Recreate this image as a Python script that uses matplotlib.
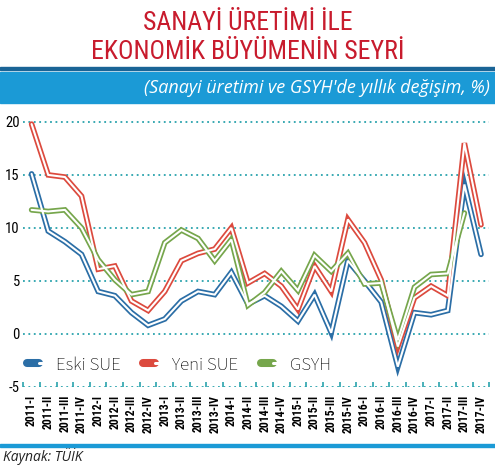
import matplotlib
matplotlib.use("Agg")
import matplotlib.pyplot as plt
from matplotlib.lines import Line2D
from matplotlib.legend_handler import HandlerTuple
from matplotlib.patches import Rectangle

# Veriler
ceyrekler = ["2011-I", "2011-II", "2011-III", "2011-IV",
             "2012-I", "2012-II", "2012-III", "2012-IV",
             "2013-I", "2013-II", "2013-III", "2013-IV",
             "2014-I", "2014-II", "2014-III", "2014-IV",
             "2015-I", "2015-II", "2015-III", "2015-IV",
             "2016-I", "2016-II", "2016-III", "2016-IV",
             "2017-I", "2017-II", "2017-III", "2017-IV"]
eski_sue = [15.1, 9.7, 8.7, 7.5, 4.0, 3.6, 2.0, 0.8, 1.4, 3.1, 4.0, 3.7,
            5.8, 2.8, 3.6, 2.6, 1.2, 3.7, 0.1, 6.9, 5.0, 3.0, -3.1, 2.0,
            1.8, 2.2, 14.1, 7.5]
yeni_sue = [19.8, 15.0, 14.8, 13.0, 6.1, 6.4, 3.1, 2.2, 4.0, 6.9, 7.6, 8.0,
            10.0, 4.8, 5.7, 4.5, 2.3, 6.4, 4.0, 10.8, 8.6, 5.1, -1.2, 3.4,
            4.5, 3.6, 18.0, 10.3]
gsyh = [11.7, 11.55, 11.7, 10.0, 7.0, 5.1, 3.7, 4.0, 8.6, 9.8, 9.0, 6.9,
        8.9, 2.7, 3.9, 5.9, 4.1, 7.4, 5.9, 7.6, 4.7, 4.8, -0.6, 4.4,
        5.6, 5.7, 11.4]
y_ticks = [-5, 0, 5, 10, 15, 20]

dar = ["Roboto Condensed", "DejaVu Sans"]
teal = "#2aa3ad"
renkler = {"Eski SUE": "#2b6ea6", "Yeni SUE": "#dc4a3e", "GSYH": "#76a64c"}

fig = plt.figure(figsize=(4.95, 4.66), dpi=100)

# başlık
fig.text(0.5, 0.9356, "SANAYİ ÜRETİMİ İLE", ha="center", va="baseline",
         fontsize=18.5, color="#c81b2d", family=dar)
fig.text(0.5, 0.8734, "EKONOMİK BÜYÜMENİN SEYRİ", ha="center", va="baseline",
         fontsize=18.5, color="#c81b2d", family=dar)

# mavi bant
fig.patches.append(Rectangle((0.0, 0.849), 1.0, 0.008, transform=fig.transFigure,
                             color="#1a6496", zorder=0))
fig.patches.append(Rectangle((0.0, 0.779), 1.0, 0.067, transform=fig.transFigure,
                             color="#1b9ad6", zorder=0))
fig.text(0.99, 0.800, "(Sanayi üretimi ve GSYH'de yıllık değişim, %)", ha="right",
         va="baseline", fontsize=13, color="white", style="italic", family="Open Sans")

ax = fig.add_axes([0.047, 0.170, 0.9416, 0.591])
x = list(range(len(ceyrekler)))

seriler = [("Eski SUE", eski_sue), ("Yeni SUE", yeni_sue), ("GSYH", gsyh)]
handles = []
for ad, deger in seriler:
    xx = x[:len(deger)]
    ax.plot(xx, deger, color=renkler[ad], lw=4.0, solid_joinstyle="miter",
            solid_capstyle="round", zorder=3)
    ax.plot(xx, deger, color="white", lw=1.5, solid_joinstyle="miter",
            solid_capstyle="round", zorder=4)
    h1 = Line2D([], [], color=renkler[ad], lw=5.8, solid_capstyle="round")
    h2 = Line2D([], [], color="white", lw=2.2, solid_capstyle="round")
    handles.append((h1, h2))

ax.set_xlim(-0.5, 27.5)
ax.set_ylim(-5, 21)
for s in ax.spines.values():
    s.set_visible(False)

for yv in y_ticks:
    ax.axhline(yv, color=teal, lw=1.3, ls=(0, (1, 2)), zorder=1)

ax.set_yticks(y_ticks)
ax.set_yticklabels([str(v) for v in y_ticks], family=dar, fontsize=10.5)
ax.tick_params(axis="y", length=0, pad=2.5)

ax.set_xticks(x)
ax.set_xticklabels(ceyrekler, rotation=90, family=dar, fontsize=8.5,
                   fontweight="bold")
ax.tick_params(axis="x", length=0, pad=6)
ax.set_xticks([i + 0.5 for i in range(-1, 28)], minor=True)
ax.tick_params(axis="x", which="minor", direction="in", length=3.5,
               color=teal, width=1.2)

ax.legend(handles, [a for a, _ in seriler], ncol=3, loc="center left",
          bbox_to_anchor=(0.008, 0.079), frameon=False,
          handler_map={tuple: HandlerTuple(ndivide=None)},
          borderpad=0, borderaxespad=0,
          handlelength=1.3, handletextpad=0.25, columnspacing=1.2,
          prop={"family": "Source Sans 3", "size": 13.5})

fig.patches.append(Rectangle((0.0, 0.040), 1.0, 0.008, transform=fig.transFigure,
                             color="#1b9ad6", zorder=0))
fig.text(0.006, 0.011, "Kaynak: TÜİK", ha="left", va="baseline", fontsize=10,
         style="italic", color="#222222", family="Open Sans")

plt.savefig("out.png", dpi=100)
